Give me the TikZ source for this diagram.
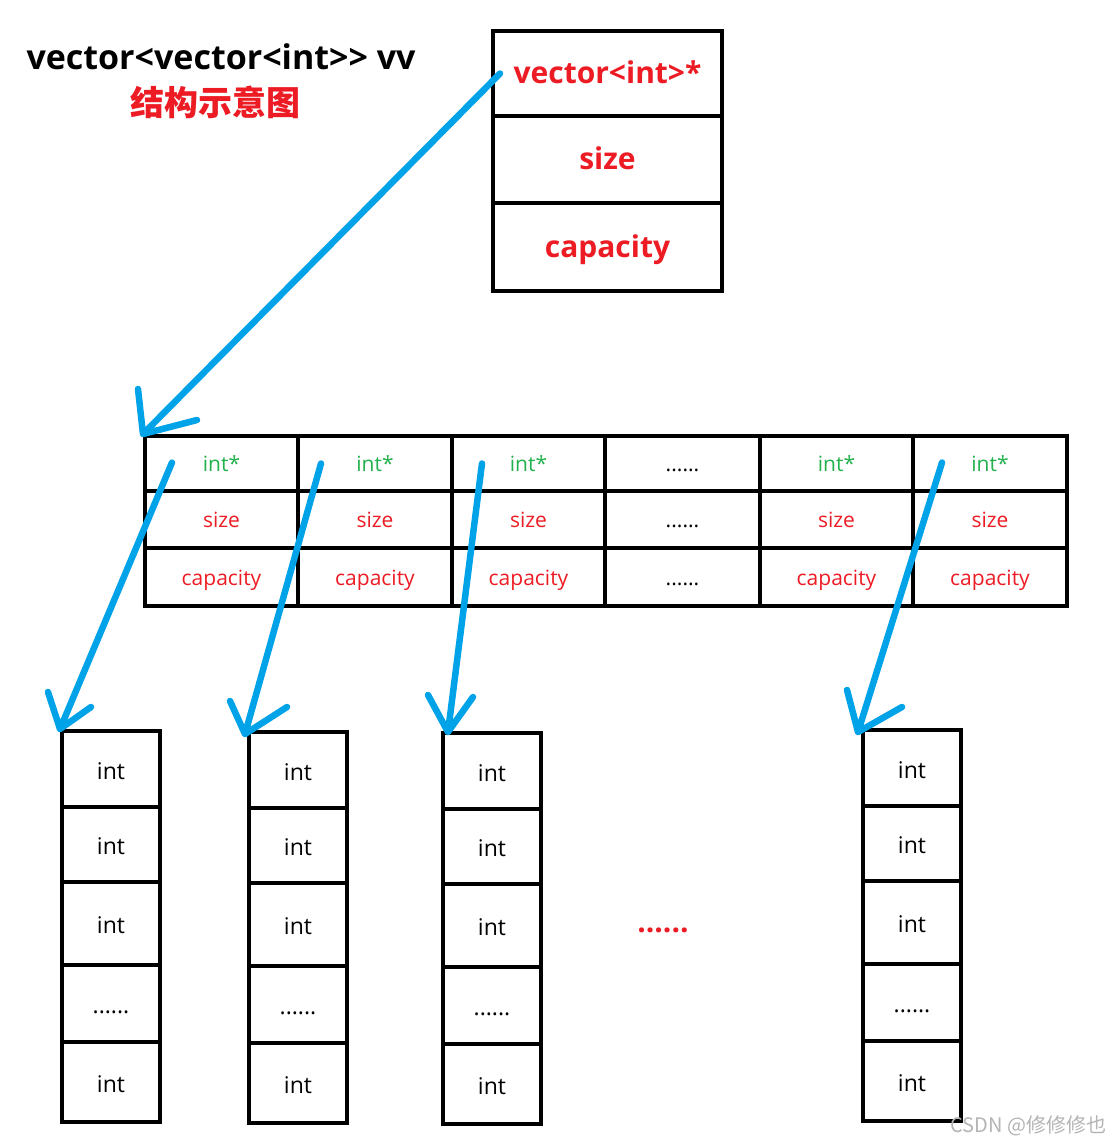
\documentclass[tikz,border=0pt]{standalone}
\usepackage{fontspec}
\setmainfont{Open Sans}
\newfontfamily\cjk{Noto Sans CJK SC}
\usetikzlibrary{calc}
\definecolor{pred}{HTML}{ED1C24}
\definecolor{pgreen}{HTML}{22B14C}
\definecolor{pblue}{HTML}{00A2E8}
\definecolor{wmgray}{HTML}{B4B4B4}
\begin{document}
\begin{tikzpicture}[x=1pt,y=-1pt,
  cell/.style={draw=black, line width=4pt, inner sep=0pt, outer sep=0pt, anchor=north west,
    text depth=0pt},
  topcell/.style={cell, minimum width=229pt, text=pred, text height=20pt, font=\bfseries\fontsize{30}{32}\selectfont},
  midcell/.style={cell, text height=16pt, font=\fontsize{21}{23}\selectfont},
  intcell/.style={cell, minimum width=98pt, text height=20pt, font=\fontsize{23}{25}\selectfont},
  arr/.style={draw=pblue, line width=6.5pt, line cap=round, line join=round}]
\useasboundingbox[fill=white] (0,0) rectangle (1113,1146);

% title
\node[font=\bfseries\fontsize{34}{36}\selectfont] (title) at (221,57) {vector<vector<int>{}> vv};
\node[font=\cjk\bfseries\fontsize{34}{36}\selectfont, text=pred] (subtitle) at (215,102) {结构示意图};

% top box
\node[topcell, minimum height=85pt] (t1) at (493,31) {vector<int>*};
\node[topcell, minimum height=87pt] (t2) at (493,116) {size};
\node[topcell, minimum height=88pt] (t3) at (493,203) {capacity};

% middle row
\foreach \i/\x/\w in {1/145/153, 2/298/154, 3/452/153, 4/605/155, 5/760/153, 6/913/154}{
  \ifnum\i=4
    \node[midcell, minimum width=\w pt, minimum height=55pt] (m\i a) at (\x,436) {......};
    \node[midcell, minimum width=\w pt, minimum height=57pt] (m\i b) at (\x,491) {......};
    \node[midcell, minimum width=\w pt, minimum height=58pt] (m\i c) at (\x,548) {......};
  \else
    \node[midcell, minimum width=\w pt, minimum height=55pt, text=pgreen] (m\i a) at (\x,436) {int*};
    \node[midcell, minimum width=\w pt, minimum height=57pt, text=pred] (m\i b) at (\x,491) {size};
    \node[midcell, minimum width=\w pt, minimum height=58pt, text=pred] (m\i c) at (\x,548) {capacity};
  \fi
}

% bottom columns
\foreach \c/\x/\y in {1/62/731, 2/249/732, 3/443/733, 4/863/730}{
  \node[intcell, minimum height=76pt] (b\c r1) at (\x,\y) {int};
  \node[intcell, minimum height=75pt] (b\c r2) at (\x,\y+76) {int};
  \node[intcell, minimum height=83pt] (b\c r3) at (\x,\y+151) {int};
  \node[intcell, minimum height=77pt] (b\c r4) at (\x,\y+234) {......};
  \node[intcell, minimum height=80pt] (b\c r5) at (\x,\y+311) {int};
}

\node[text=pred, font=\bfseries\fontsize{30}{32}\selectfont] (reddots) at (663,930) {......};

% arrows
\coordinate (s0) at ($(t1.west)+(7,0)$);
\coordinate (e0) at ($(m1a.north west)+(-2,-2)$);
\draw[arr] (s0) -- (e0) ++(-5,-45) -- (e0) -- ++(54,-14);

\coordinate (s1) at ($(m1a.west)+(27,-1)$);
\coordinate (e1) at ($(b1r1.north west)+(-2,-2)$);
\draw[arr] (s1) -- (e1) ++(-12,-37) -- (e1) -- ++(31,-22);

\coordinate (s2) at ($(m2a.west)+(23,0)$);
\coordinate (e2) at ($(b2r1.north west)+(-4,2)$);
\draw[arr] (s2) -- (e2) ++(-15,-33) -- (e2) -- ++(42,-27);

\coordinate (s3) at ($(m3a.west)+(30,0)$);
\coordinate (e3) at ($(b3r1.north west)+(5,-1)$);
\draw[arr] (s3) -- (e3) ++(-20,-37) -- (e3) -- ++(25,-35);

\coordinate (s4) at ($(m6a.west)+(29,-1)$);
\coordinate (e4) at ($(b4r1.north west)+(-5,2)$);
\draw[arr] (s4) -- (e4) ++(-11,-42) -- (e4) -- ++(44,-25);

% watermark
\node[anchor=east, text=wmgray, font=\cjk\fontsize{20}{22}\selectfont] (wm) at (1110,1126) {CSDN @修修修也};
\end{tikzpicture}
\end{document}
